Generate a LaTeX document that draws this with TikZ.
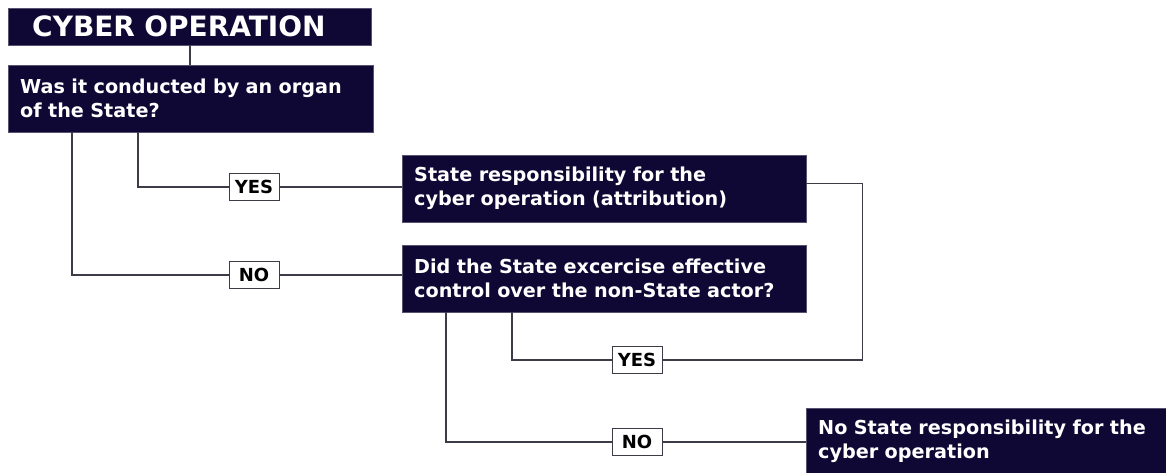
\documentclass[tikz,border=0pt]{standalone}
\usepackage{fontspec}
\setmainfont{DejaVu Sans}
\usetikzlibrary{positioning, calc}
\definecolor{opnavy}{RGB}{16, 8, 52}
\definecolor{oplink}{RGB}{60, 60, 72}

\begin{document}
\begin{tikzpicture}[
      x=1pt, y=-1pt,
      qbox/.style={rectangle, draw=opnavy!70, fill=opnavy, text=white, anchor=north west, minimum height=67pt, inner xsep=12pt, inner ysep=0pt, font=\fontsize{19.2}{24}\selectfont\bfseries, align=left},
      tag/.style={rectangle, draw=oplink, fill=white, line width=1pt, minimum width=50pt, minimum height=27pt, inner sep=0pt, font=\fontsize{18}{20}\selectfont\bfseries},
      link/.style={oplink, line width=1.2pt}
    ]
      \useasboundingbox (0,0) rectangle (1166,473);

      \node[qbox, minimum height=37pt, inner xsep=24pt, text width=315pt, font=\fontsize{28}{30}\selectfont\bfseries] (Title) at (8,8) {CYBER OPERATION};
      \node[qbox, text width=341pt] (Q1) at (8,65) {Was it conducted by an organ\\of the State?};
      \node[qbox, text width=380pt] (R1) at (402,155) {State responsibility for the\\cyber operation (attribution)};
      \node[qbox, text width=380pt] (Q2) at (402,245) {Did the State excercise effective\\control over the non-State actor?};
      \node[qbox, text width=380pt] (R2) at (806,408) {No State responsibility for the\\cyber operation};

      \node[tag] (Y1) at (254,187) {YES};
      \node[tag] (N1) at (254,275) {NO};
      \node[tag] (Y2) at (637,360) {YES};
      \node[tag] (N2) at (637,442) {NO};

      \coordinate (q1yes) at (138,132);
      \coordinate (q1no) at (72,132);
      \coordinate (q2yes) at (512,312);
      \coordinate (q2no) at (446,312);

      \draw[link] (Title.south -| 190,0) -- (Q1.north -| 190,0);
      \draw[link] (q1yes) |- (Y1.west);
      \draw[link] (Y1.east) -- (Y1.east -| R1.west);
      \draw[link] (q1no) |- (N1.west);
      \draw[link] (N1.east) -- (N1.east -| Q2.west);
      \draw[link] ([yshift=5pt]R1.east) -- ++(56,0) |- (Y2.east);
      \draw[link] (Y2.west) -| (q2yes);
      \draw[link] (q2no) |- (N2.west);
      \draw[link] (N2.east) -- (N2.east -| R2.west);
    \end{tikzpicture}
\end{document}
